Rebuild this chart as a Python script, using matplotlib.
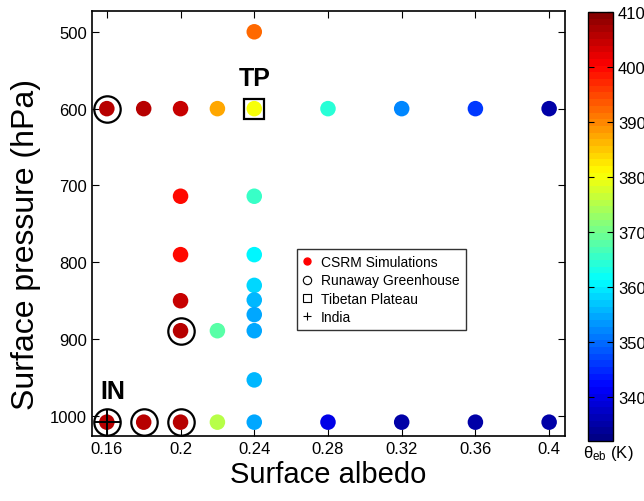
import numpy as np
import matplotlib
matplotlib.use("Agg")
from matplotlib import pyplot as plt
from matplotlib.colors import ListedColormap

plt.rcParams["font.family"] = ["Liberation Sans", "DejaVu Sans"]

# CSRM simulations: albedo, surface pressure (hPa), theta_eb (K)
albedo = [0.16, 0.18, 0.20, 0.22, 0.24, 0.24, 0.28, 0.32, 0.36, 0.40,
          0.20, 0.20, 0.20, 0.20, 0.22,
          0.24, 0.24, 0.24, 0.24, 0.24, 0.24, 0.24,
          0.16, 0.18, 0.20, 0.22, 0.24, 0.28, 0.32, 0.36, 0.40]
pressure = [600, 600, 600, 600, 600, 500, 600, 600, 600, 600,
            714, 790, 850, 889, 889,
            714, 790, 830, 849, 868, 889, 953,
            1008, 1008, 1008, 1008, 1008, 1008, 1008, 1008, 1008]
theta_eb = [406.3, 406.3, 404, 387.6, 379.6, 392.5, 364, 352, 345.6, 334.5,
            400, 400, 404, 406.3, 368.5,
            366, 361, 358.7, 356, 354.6, 354, 355.8,
            406.3, 406.3, 406.3, 374.7, 354.6, 340, 334.5, 334.5, 334.5]

runaway_albedo = [0.16, 0.20, 0.16, 0.18, 0.20]
runaway_pressure = [600, 889, 1008, 1008, 1008]
tibet_albedo = [0.24]
tibet_pressure = [600]
india_albedo = [0.16]
india_pressure = [1008]

xticks = [0.16, 0.2, 0.24, 0.28, 0.32, 0.36, 0.4]
xticklabels = ["0.16", "0.2", "0.24", "0.28", "0.32", "0.36", "0.4"]
yticks = [500, 600, 700, 800, 900, 1000]
cbticks = [340, 350, 360, 370, 380, 390, 400, 410]

# MATLAB-style jet, 64 levels
t = (np.arange(64) + 0.5) / 64
jet = np.clip(np.stack([1.5 - np.abs(4 * t - 3),
                        1.5 - np.abs(4 * t - 2),
                        1.5 - np.abs(4 * t - 1)], axis=1), 0, 1)
cmap = ListedColormap(jet)

fig = plt.figure(figsize=(6.44, 5.02), dpi=100)
ax = fig.add_axes([0.143, 0.1295, 0.734, 0.8465])

sc = ax.scatter(albedo, pressure, c=theta_eb, cmap=cmap, vmin=332, vmax=410,
                s=125, edgecolors="none", zorder=3)
ax.plot(runaway_albedo, runaway_pressure, "o", mfc="none", mec="k", ms=19, mew=1.6, zorder=4)
ax.plot(tibet_albedo, tibet_pressure, "s", mfc="none", mec="k", ms=14.5, mew=1.6, zorder=4)
ax.plot(india_albedo, india_pressure, "+", color="k", ms=19, mew=1.4, zorder=5)

# legend proxies
ax.plot([], [], "o", color="red", ms=5, label="CSRM Simulations")
ax.plot([], [], "o", mfc="none", mec="k", ms=6, mew=0.8, label="Runaway Greenhouse")
ax.plot([], [], "s", mfc="none", mec="k", ms=6, mew=0.8, label="Tibetan Plateau")
ax.plot([], [], "+", color="k", ms=6, mew=0.8, label="India")
leg = ax.legend(loc="upper left", bbox_to_anchor=(0.433, 0.44), fontsize=10,
                frameon=True, fancybox=False, handlelength=0.6, handletextpad=0.7,
                borderpad=0.45, labelspacing=0.3, borderaxespad=0)
leg.get_frame().set_edgecolor("k")
leg.get_frame().set_linewidth(1.0)

ax.text(0.24, 560, "TP", fontsize=18, fontweight="bold", ha="center", va="center")
ax.text(0.1635, 967, "IN", fontsize=18, fontweight="bold", ha="center", va="center")

ax.set_xlim(0.152, 0.4085)
ax.set_ylim(1026, 473)
ax.set_xticks(xticks)
ax.set_xticklabels(xticklabels)
ax.set_yticks(yticks)
ax.tick_params(direction="in", top=True, right=True, labelsize=12, length=5, width=0.8)
for s in ax.spines.values():
    s.set_linewidth(1.2)
ax.set_xlabel("Surface albedo", fontsize=21, labelpad=3)
ax.set_ylabel("Surface pressure (hPa)", fontsize=23)
ax.yaxis.set_label_coords(-0.108, 0.452)

cax = fig.add_axes([0.913, 0.12, 0.039, 0.854])
cb = fig.colorbar(sc, cax=cax, ticks=cbticks)
cb.ax.tick_params(direction="in", left=True, right=True, labelsize=12, length=4)
cb.outline.set_linewidth(1.0)
fig.text(0.905, 0.115, r"$\mathregular{\theta_{eb}}$ (K)", ha="left", va="top", fontsize=12)

fig.savefig("out.png", dpi=100)
